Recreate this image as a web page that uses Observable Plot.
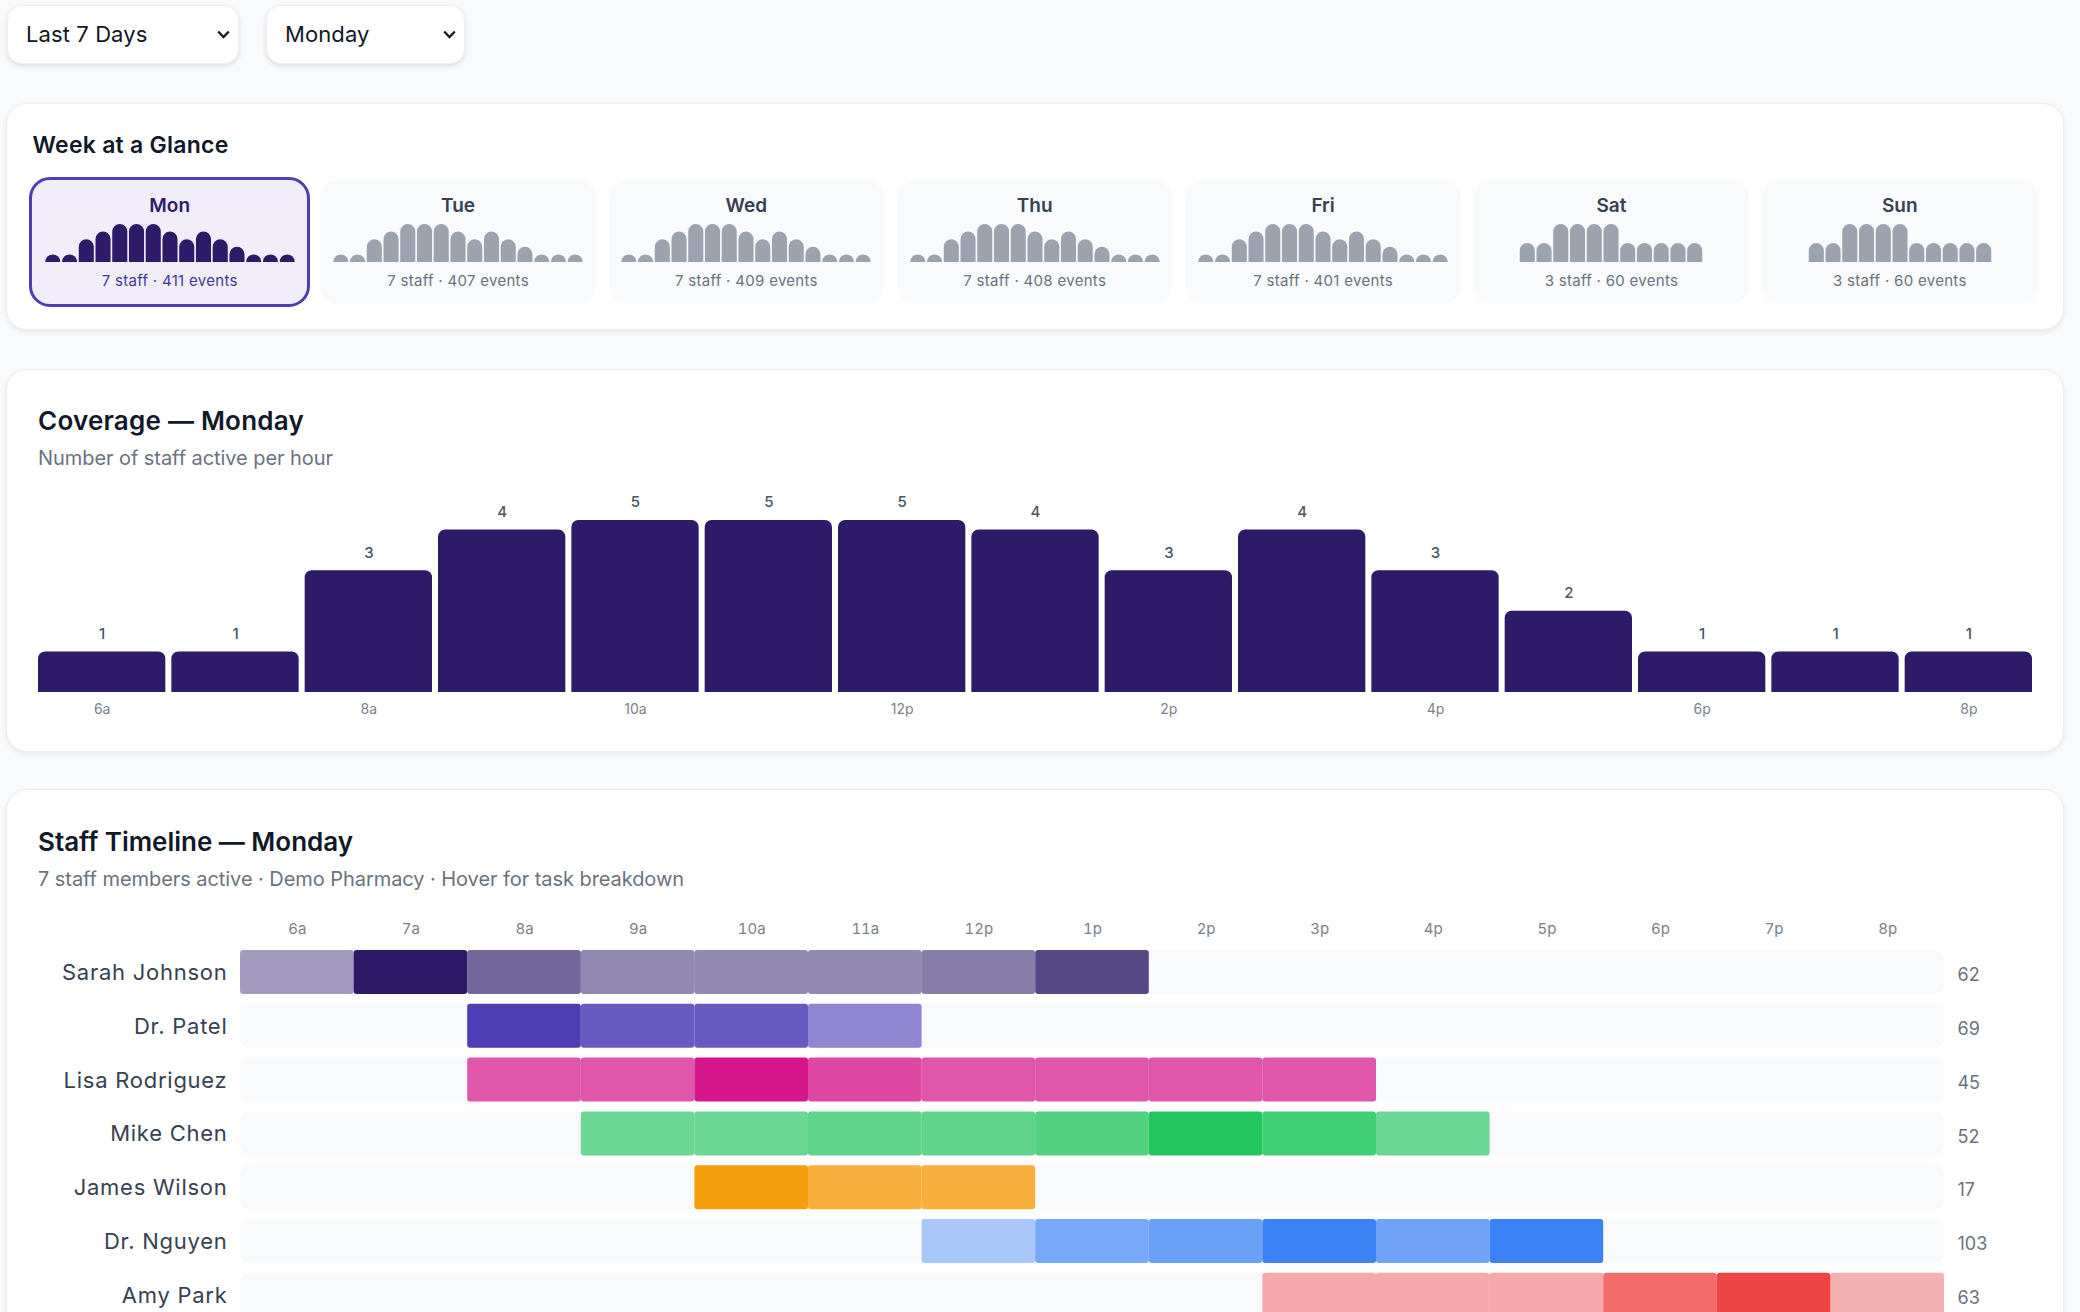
<!DOCTYPE html>
<html><head><meta charset="utf-8">
<script src="https://cdn.jsdelivr.net/npm/d3@7"></script>
<script src="https://cdn.jsdelivr.net/npm/@observablehq/plot@0.6"></script>
<style>
html,body{margin:0;padding:0;width:2080px;height:1312px;overflow:hidden;background:#f9fafb;font-family:Inter,"Noto Sans",sans-serif;}
.abs{position:absolute;white-space:nowrap;line-height:1;}
select{position:absolute;top:5px;height:59px;appearance:none;-webkit-appearance:none;
  background:#fff url("data:image/svg+xml;utf8,<svg xmlns='http://www.w3.org/2000/svg' width='13' height='9'><path d='M1.2 1.5 L6.5 7 L11.8 1.5' fill='none' stroke='%23111827' stroke-width='2.3'/></svg>") no-repeat right 8px center;
  border:1px solid #eef0f3;border-radius:15px;box-shadow:0 2px 5px rgba(0,0,0,.12);font:400 22px Inter,sans-serif;letter-spacing:.1px;color:#111827;padding:0 8px 2px 18px;outline:none;}
.card{position:absolute;left:6px;width:2058px;background:#fff;border:1px solid #eceef2;box-sizing:border-box;border-radius:21px;box-shadow:0 2px 5px rgba(0,0,0,.08);}
.h{font-weight:600;color:#111827;}
.s{font-weight:400;color:#6b7280;}
#days{position:absolute;left:32px;top:180px;width:2005.5px;height:124px;display:grid;grid-template-columns:repeat(7,1fr);column-gap:13px;}
.day{position:relative;background:#f9fafb;border-radius:18px;}
.day.sel{background:#f1eef9;outline:3px solid #4f3db5;outline-offset:0;}
.day .lab{position:absolute;left:0;right:0;top:14px;text-align:center;font-size:19px;font-weight:600;line-height:24px;color:#374151;}
.day.sel .lab{color:#2d1b69;}
.day .sub{position:absolute;left:0;right:0;top:91px;text-align:center;font-size:15px;letter-spacing:.3px;line-height:20px;color:#6b7280;}
.day.sel .sub{color:#4338a0;}
.day .spark{position:absolute;top:44px;left:50%;transform:translateX(-50%);line-height:0;}
svg{display:block;max-width:none !important;}
.plot{position:absolute;}
</style></head><body>
<select style="left:7px;width:232px"><option>Last 7 Days</option></select>
<select style="left:266px;width:199px"><option>Monday</option></select>

<div class="card" style="top:103px;height:227px"></div>
<div class="card" style="top:369px;height:383px"></div>
<div class="card" style="top:789px;height:600px"></div>

<div class="abs h" data-w="196" style="left:32.5px;top:133.5px;font-size:23px">Week at a Glance</div>
<div id="days"></div>

<div class="abs h" data-w="266" style="left:38px;top:408px;font-size:26px">Coverage — Monday</div>
<div class="abs s" data-w="295" style="left:38px;top:448px;font-size:20px">Number of staff active per hour</div>
<div id="coverage" class="plot" style="left:0;top:480px"></div>

<div class="abs h" data-w="315" style="left:38px;top:829px;font-size:26px">Staff Timeline — Monday</div>
<div class="abs s" data-w="646" style="left:38px;top:869px;font-size:20px">7 staff members active · Demo Pharmacy · Hover for task breakdown</div>
<div id="timeline" class="plot" style="left:0;top:910px"></div>

<script>
// ---- Week at a glance
const days = ["Mon","Tue","Wed","Thu","Fri","Sat","Sun"];
const dayStaff = [7,7,7,7,7,3,3];
const dayEvents = [411,407,409,408,401,60,60];
const weekdayBars = [1,1,3,4,5,5,5,4,3,4,3,2,1,1,1];
const weekendBars = [1,1,2,2,2,2,1,1,1,1,1];

// ---- Coverage
const hourLabels = ["6a","7a","8a","9a","10a","11a","12p","1p","2p","3p","4p","5p","6p","7p","8p"];
const coverage = [1,1,3,4,5,5,5,4,3,4,3,2,1,1,1];
const coverageTicks = ["6a","8a","10a","12p","2p","4p","6p","8p"];

// ---- Staff timeline (hours from 6 = 6a; shade is the cell's read-off strength)
const staffNames = ["Sarah Johnson","Dr. Patel","Lisa Rodriguez","Mike Chen","James Wilson","Dr. Nguyen","Amy Park"];
const staffTotals = [62,69,45,52,17,103,63];
const staffColors = ["#2d1b69","#4f3db5","#d6168b","#22c55e","#f59e0b","#3b82f6","#ef4444"];
const staffStart = [6,8,8,9,10,12,15];
const sarahShade = [.43,1,.66,.51,.51,.51,.56,.8];
const patelShade = [1,.85,.85,.62];
const lisaShade = [.72,.72,1,.78,.72,.72,.72,.72];
const mikeShade = [.65,.65,.72,.72,.78,1,.85,.65];
const jamesShade = [1,.8,.8];
const nguyenShade = [.42,.68,.75,1,.72,1];
const amyShade = [.45,.45,.45,.78,1,.4];
const staffShades = [sarahShade,patelShade,lisaShade,mikeShade,jamesShade,nguyenShade,amyShade];

const FONT = 'Inter,"Noto Sans",sans-serif';
const GREY = "#9ca3af", NAVY = "#2d1b69";

// day cards
const host = document.getElementById("days");
days.forEach((d,i)=>{
  const sel = i===0;
  const bars = i<5 ? weekdayBars : weekendBars;
  const el = document.createElement("div");
  el.className = "day"+(sel?" sel":"");
  el.innerHTML = `<div class="lab">${d}</div><div class="spark"></div><div class="sub">${dayStaff[i]} staff · ${dayEvents[i]} events</div>`;
  const table = bars.map((v,k)=>({k,v}));
  const step = 16.75, w = bars.length*step-1.7;
  const spark = el.querySelector(".spark");
  spark.style.width = w+"px";
  spark.append(Plot.plot({
    width: w, height:38,
    margin:0,
    style:{background:"transparent",overflow:"visible"},
    x:{type:"band",domain:d3.range(bars.length),paddingInner:.1,paddingOuter:0,round:false,axis:null},
    y:{domain:[0,d3.max(bars)],range:[38,0],axis:null},
    marks:[Plot.barY(table,{x:"k",y:"v",fill:sel?NAVY:GREY,ry1:7.5})]
  }));
  host.append(el);
});

// coverage
const covTable = hourLabels.map((h,i)=>({h,v:coverage[i]}));
document.getElementById("coverage").append(Plot.plot({
  width:2080,height:260,
  marginLeft:38,marginRight:48,marginTop:0,marginBottom:48,
  style:{background:"transparent",fontFamily:FONT,overflow:"visible"},
  x:{type:"band",domain:hourLabels,paddingInner:.045,paddingOuter:0,round:false,label:null},
  y:{type:"linear",domain:[0,4,5],range:[212,49.6,40],axis:null},
  marks:[
    Plot.barY(covTable,{x:"h",y:"v",fill:NAVY,ry1:7}),
    Plot.text(covTable,{x:"h",y:"v",text:d=>String(d.v),dy:-18,fontSize:15,fontWeight:500,fill:"#4b5563",fontFamily:FONT}),
    Plot.axisX({ticks:coverageTicks,tickSize:0,tickPadding:12,fontSize:14,fill:"#7b818c",label:null,fontFamily:FONT})
  ]
}));

// timeline
const cells = staffNames.flatMap((name,r)=>staffShades[r].map((shade,k)=>({
  name,color:staffColors[r],shade,hour:staffStart[r]+k
})));
const rows = staffNames.map((name,r)=>({name,total:staffTotals[r]}));
const tickHours = hourLabels.map((_,i)=>6.5+i);
const timelinePlot = Plot.plot({
  width:2080,height:406.8,
  marginLeft:240,marginRight:136,marginTop:40,marginBottom:0,
  style:{background:"transparent",fontFamily:FONT,overflow:"visible"},
  x:{type:"linear",domain:[6,21],label:null},
  y:{type:"band",domain:staffNames,paddingInner:.182,paddingOuter:0,round:false,label:null},
  marks:[
    Plot.barX(rows,{x1:6,x2:21,y:"name",fill:"#f9fafb",r:9}),
    Plot.barX(cells,{x1:"hour",x2:d=>d.hour+1,y:"name",fill:"color",fillOpacity:"shade",r:3,inset:0}),
    Plot.axisX({anchor:"top",ticks:tickHours,tickFormat:v=>hourLabels[v-6.5],tickSize:0,tickPadding:16,fontSize:15,fill:"#7b818c",label:null,fontFamily:FONT}),
    Plot.axisY({anchor:"left",tickSize:0,tickPadding:13,dy:.5,fontSize:22,fill:"#374151",label:null,fontFamily:FONT}),
    Plot.text(rows,{x:21,y:"name",text:d=>String(d.total),dx:13,dy:3,textAnchor:"start",fontSize:18,fill:"#6b7280",fontFamily:FONT})
  ]
});
document.getElementById("timeline").append(timelinePlot);
timelinePlot.querySelectorAll("text").forEach(t=>{
  if(staffNames.includes(t.textContent)) t.style.letterSpacing=".75px";
});

// match title widths
document.querySelectorAll("[data-w]").forEach(el=>{
  el.style.display="inline-block";
  const w=el.getBoundingClientRect().width, n=el.textContent.length;
  el.style.letterSpacing=((+el.dataset.w-w)/n)+"px";
});
</script>
</body></html>
